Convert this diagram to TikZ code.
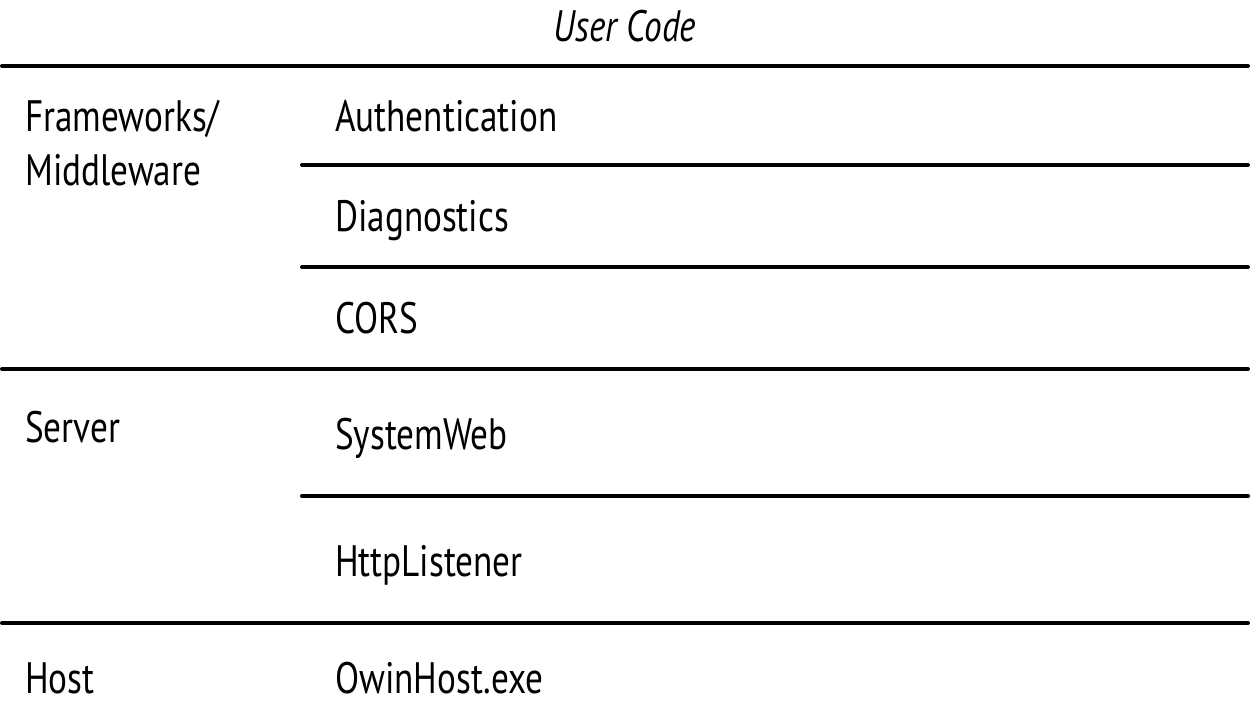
\documentclass[tikz,border=0pt]{standalone}
\usepackage{fontspec}
\setmainfont[FakeStretch=0.80]{PT Sans}
\begin{document}
\begin{tikzpicture}[x=1pt,y=-1pt]
        \useasboundingbox (0,0) rectangle (1250,705);
        \begin{scope}[every node/.style={anchor=base west,inner sep=0pt,font=\fontsize{44}{50}\selectfont}]
            \node (user) [anchor=base,font=\fontsize{44}{50}\selectfont\itshape] at (625,41) {User Code};
            \node (fw)   at (25,131) {Frameworks/};
            \node (mw)   at (25,185) {Middleware};
            \node (srv)  at (25,442) {Server};
            \node (host) at (25,693) {Host};
            \node (auth) at (335,131) {Authentication};
            \node (diag) at (335,231) {Diagnostics};
            \node (cors) at (335,333) {CORS};
            \node (sw)   at (335,449) {SystemWeb};
            \node (http) at (335,576) {HttpListener};
            \node (owin) at (335,693) {OwinHost.exe};
        \end{scope}
        \begin{scope}[line width=4pt,line cap=round]
            \draw (2,66) -- (1248,66);
            \draw (302,165) -- (1248,165);
            \draw (302,267) -- (1248,267);
            \draw (2,369) -- (1248,369);
            \draw (302,496) -- (1248,496);
            \draw (2,623) -- (1248,623);
        \end{scope}
    \end{tikzpicture}
\end{document}
